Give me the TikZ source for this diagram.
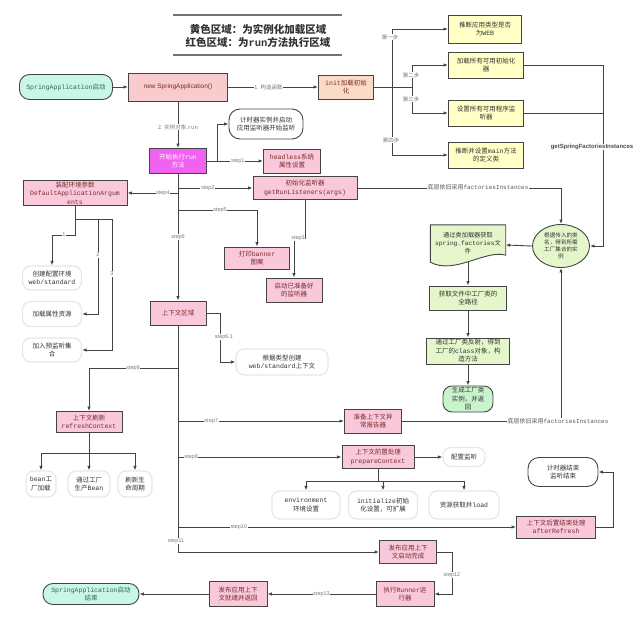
\documentclass[tikz,border=0pt]{standalone}
\usepackage{fontspec}
\setmainfont{Noto Sans CJK SC}
\newfontfamily\mono{Liberation Mono}
\newfontfamily\lsans{Liberation Sans}
\usetikzlibrary{arrows.meta,shapes.geometric}
\definecolor{pinkf}{HTML}{F9C9DB}
\definecolor{salf}{HTML}{F8CCCC}
\definecolor{magf}{HTML}{F062F0}
\definecolor{yelf}{HTML}{FFFFC6}
\definecolor{orf}{HTML}{FADCC6}
\definecolor{tealf}{HTML}{C9F6E6}
\definecolor{greenf}{HTML}{E4F6CA}
\definecolor{green2}{HTML}{C9F3CB}
\definecolor{linec}{HTML}{444444}
\definecolor{faint}{HTML}{EDE4E6}
\definecolor{lab}{HTML}{7A7A7A}
\definecolor{redt}{HTML}{7A2A2A}
\definecolor{tealt}{HTML}{2F6656}
\tikzset{
  txt/.style={font=\fontsize{6.5}{8.5}\selectfont, align=center, inner sep=1pt},
  box/.style={txt, draw=linec, line width=0.9pt},
  pinkbox/.style={box, fill=pinkf, text=redt},
  yelbox/.style={box, fill=yelf, text=black!80},
  grnbox/.style={box, fill=greenf, text=black!80},
  soft/.style={txt, draw=faint, line width=1.2pt, rounded corners=8pt, fill=white, text=black!80},
  roundbox/.style={txt, draw=linec, line width=0.9pt, rounded corners=11pt, fill=white, text=black!80},
  pill/.style={txt, draw=linec, line width=0.9pt, rounded corners=10pt, fill=tealf, text=tealt},
  ln/.style={draw=linec, line width=0.9pt},
  arr/.style={ln, -{Latex[length=4.5pt,width=3.5pt]}},
  lbl/.style={fill=white, inner sep=0.6pt, text=lab, font=\lsans\fontsize{5.5}{6}\selectfont},
  clbl/.style={fill=white, inner sep=0.6pt, text=lab, font=\fontsize{5.5}{6}\selectfont},
  flbl/.style={fill=white, inner sep=0.6pt, text=black!65, font=\fontsize{6}{7}\selectfont},
  wh/.style={minimum width=#1},
  ht/.style={minimum height=#1}
}
\begin{document}
\begin{tikzpicture}[x=1pt,y=-1pt]
\useasboundingbox (0,0) rectangle (640,629);
% title
\draw[line width=1.3pt, draw=black!55] (173,15) -- (342,15);
\draw[line width=1.3pt, draw=black!55] (173,55) -- (342,55);
\node[font=\fontsize{10.5}{12}\selectfont\bfseries, text=black!80] (t1) at (258,29) {黄色区域：为实例化加载区域};
\node[font=\fontsize{10.5}{12}\selectfont\bfseries, text=black!80] (t2) at (258,42) {红色区域：为{\mono run}方法执行区域};

% top row
\node[pill, wh=93, ht=25] (start) at (66,87) {{\mono SpringApplication}启动};
\node[box, fill=salf, text=redt, wh=99, ht=28, font=\lsans\fontsize{6.5}{8}\selectfont] (new) at (178,87) {new SpringApplication()};
\node[box, fill=orf, text=redt, wh=55, ht=24] (init) at (346,87) {{\mono init}加载初始\\化};
\draw[arr] (start) -- (new);
\draw[arr] (new) -- (init) node[clbl, pos=0.45] {1. 构造函数};

\node[yelbox, wh=73, ht=28] (y1) at (485,29) {推断应用类型是否\\为{\mono WEB}};
\node[yelbox, wh=75, ht=26] (y2) at (486,65) {加载所有可用初始化\\器};
\node[yelbox, wh=75, ht=26] (y3) at (486,113) {设置所有可用程序监\\听器};
\node[yelbox, wh=75, ht=26] (y4) at (486,155) {推断并设置{\mono main}方法\\的定义类};
\coordinate (b1) at (392,87);
\coordinate (b2) at (412,87);
\draw[ln] (init.east) -- (b2);
\draw[arr] (b1) |- (y1.west);
\draw[arr] (b1) |- (y4.west);
\draw[arr] (b2) |- (y2.west);
\draw[arr] (b2) |- (y3.west);
\node[clbl] (l1) at (390,37) {第一步};
\node[clbl] (l2) at (411,75) {第二步};
\node[clbl] (l3) at (411,99) {第三步};
\node[clbl] (l4) at (391,140) {第四步};

% factories
\node[ellipse, draw=linec, line width=0.9pt, fill=greenf, minimum width=57, minimum height=43, inner sep=0pt, align=center, font=\fontsize{5.6}{7}\selectfont, text=black!80] (ell) at (561,246) {根据传入的类\\名，得到所需\\工厂集合的实\\例};
\coordinate (rv) at (603,65);
\draw[ln] (y2.east) -- (rv);
\draw[ln] (y3.east) -- (603,113);
\draw[arr] (rv) |- (ell.east);
\node[fill=white, inner sep=0.6pt, text=black!70, font=\lsans\bfseries\fontsize{6}{7}\selectfont] (gsf) at (592,147) {getSpringFactoriesInstances};

\node[txt, wh=75, ht=40, text=black!80, font=\fontsize{6.2}{8}\selectfont] (doc) at (468,245) {};
\draw[ln, fill=greenf] (doc.north west) -- (doc.north east) -- ([yshift=10pt]doc.south east) .. controls ([xshift=-20pt,yshift=16pt]doc.south east) and ([xshift=24pt,yshift=-10pt]doc.south west) .. ([yshift=3pt]doc.south west) -- cycle;
\node[txt, text=black!80, font=\fontsize{6.2}{8}\selectfont] (doct) at ([yshift=2pt]doc.center) {通过类加载器获取\\{\mono spring.factories}文\\件};
\node[grnbox, wh=77, ht=24] (fp) at (468,298) {获取文件中工厂类的\\全路径};
\node[grnbox, wh=83, ht=26] (cls) at (468,351) {通过工厂类反射，得到\\工厂的{\mono class}对象，构\\造方法};
\node[box, fill=green2, rounded corners=9pt, wh=50, ht=26, text=black!80] (gen) at (468,399) {生成工厂类\\实例，并返\\回};
\draw[arr] (ell.west) -- (doc.east);
\draw[arr] ([yshift=3pt]doc.south) -- (fp.north);
\draw[arr] (fp.south) -- (cls.north);
\draw[arr] (cls.south) -- (gen.north);

% run
\node[box, fill=magf, text=white, wh=57, ht=25] (run) at (178,161) {开始执行{\mono run}\\方法};
\draw[arr] (new.south) -- (run.north) node[clbl, pos=0.55] {2. 实例对象.{\mono run}};
\node[roundbox, wh=74, ht=30] (timer) at (266,124) {计时器实例并启动\\应用监听器开始监听};
\node[pinkbox, wh=57, ht=24] (hl) at (292,161) {{\mono headless}系统\\属性设置};
\draw[arr] (run.east) -- (217,161) |- (timer.west);
\draw[arr] (run.east) -- (hl.west) node[lbl, pos=0.55] {step1};

\node[pinkbox, wh=104, ht=23] (grl) at (305,188) {初始化监听器\\{\mono getRunListeners(args)}};
\node[pinkbox, wh=104, ht=22] (daa) at (75,193) {装配环境参数\\{\mono DefaultApplicationArgum}\\{\mono ents}};
\node[pinkbox, wh=65, ht=22] (ban) at (257,258) {打印{\mono banner}\\图案};
\node[pinkbox, wh=56, ht=24] (rdy) at (294,290) {启动已准备好\\的监听器};
\node[pinkbox, wh=56, ht=24] (ctx) at (178,313) {上下文区域};
\draw[arr] (178,188) -- (grl.west) node[lbl, pos=0.4] {step2};
\draw[arr] (178,193) -- (daa.east) node[lbl, pos=0.3] {step4};
\draw[arr] (178,210) -| (ban.north);
\node[lbl] (s5) at (220,210) {step5};
\draw[arr] (grl.south) -- (305,238) -| (rdy.north);
\node[lbl] (s3) at (298,238) {step3};
\draw[arr] (run.south) -- (ctx.north) node[lbl, pos=0.5] {step6};
\draw[arr] (grl.east) -| (ell.north);
\node[flbl] (fi1) at (478,187) {底层依旧采用{\mono factoriesInstances}};

% left branch
\node[soft, wh=59, ht=24] (cfg) at (52,278) {创建配置环境\\{\mono web/standard}};
\node[soft, wh=59, ht=25] (prop) at (52,314) {加载属性资源};
\node[soft, wh=59, ht=24] (lis) at (52,350) {加入预监听集\\合};
\coordinate (dj) at (75,219);
\draw[ln] (daa.south) -- (dj) -- (112,219);
\draw[arr] (dj) -- (75,235) -| (cfg.north);
\draw[arr] (98,219) |- (prop.east);
\draw[arr] (112,219) |- (lis.east);
\node[lbl] (n1) at (64,235) {1};
\node[lbl] (n2) at (98,255) {2};
\node[lbl] (n3) at (112,274) {3};

% context
\node[soft, wh=92, ht=26] (web) at (282,362) {根据类型创建\\{\mono web/standard}上下文};
\draw[arr] (ctx.east) -- (220,313) |- (web.west);
\node[lbl] (s61) at (224,337) {step6.1};
\node[pinkbox, wh=66, ht=21] (ref) at (89,422) {上下文刷新\\{\mono refreshContext}};
\draw[arr] (178,368) -| (ref.north);
\node[lbl] (s9) at (133,368) {step9};
\node[soft, wh=30, ht=26] (bf) at (41,484) {{\mono bean}工\\厂加载};
\node[soft, wh=42, ht=26] (gb) at (89,484) {通过工厂\\生产{\mono Bean}};
\node[soft, wh=34, ht=26] (lc) at (135,484) {刷新生\\命周期};
\draw[ln] (ref.south) -- (89,453);
\draw[ln] (41,453) -- (135,453);
\draw[arr] (41,453) -- (bf.north);
\draw[arr] (89,453) -- (gb.north);
\draw[arr] (135,453) -- (lc.north);

\node[pinkbox, wh=57, ht=24] (rep) at (373,421) {准备上下文异\\常报告器};
\draw[arr] (178,421) -- (rep.west) node[lbl, pos=0.2] {step7};
\draw[arr] (rep.east) -| (ell.south);
\node[flbl] (fi2) at (558,421) {底层依旧采用{\mono factoriesInstances}};

\node[pinkbox, wh=72, ht=23] (pc) at (378,457) {上下文前置处理\\{\mono prepareContext}};
\draw[arr] (178,457) -- (pc.west) node[lbl, pos=0.08] {step8};
\node[soft, wh=42, ht=19] (cfgl) at (464,457) {配置监听};
\draw[arr] (pc.east) -- (cfgl.west);
\node[soft, wh=68, ht=28] (envb) at (306,505) {{\mono environment}\\环境设置};
\node[soft, wh=69, ht=28] (initb) at (383,505) {{\mono initialize}初始\\化设置，可扩展};
\node[soft, wh=70, ht=28] (resb) at (464,505) {资源获取并{\mono load}};
\draw[ln] (pc.south) -- (378,481);
\draw[ln] (306,481) -- (464,481);
\draw[arr] (306,481) -- (envb.north);
\draw[arr] (383,481) -- (initb.north);
\draw[arr] (464,481) -- (resb.north);

\node[pinkbox, wh=79, ht=22] (ar) at (556,527) {上下文后置结束处理\\{\mono afterRefresh}};
\draw[arr] (178,527) -- (ar.west) node[lbl, pos=0.18] {step10};
\node[roundbox, wh=70, ht=29] (te) at (563,472) {计时器结束\\监听结束};
\draw[arr] (ar.east) -- (613,527) |- (te.east);

% bottom
\node[pinkbox, wh=57, ht=23] (pub) at (408,552) {发布应用上下\\文启动完成};
\coordinate (tEnd) at (178,552);
\draw[arr] (ctx.south) -- (tEnd) -- (pub.west);
\node[lbl] (s11) at (176,541) {step11};
\node[pinkbox, wh=58, ht=25] (rn) at (405,594) {执行{\mono Runner}运\\行器};
\draw[arr] (pub.east) -- (452,552) |- (rn.east);
\node[lbl] (s12) at (452,575) {step12};
\node[pinkbox, wh=58, ht=25] (rdy2) at (238,594) {发布应用上下\\文就绪并返回};
\draw[arr] (rn.west) -- (rdy2.east) node[lbl, pos=0.5] {step13};
\node[pill, wh=96, ht=21] (endn) at (91,594) {{\mono SpringApplication}启动\\结束};
\draw[arr] (rdy2.west) -- (endn.east);
\end{tikzpicture}
\end{document}
